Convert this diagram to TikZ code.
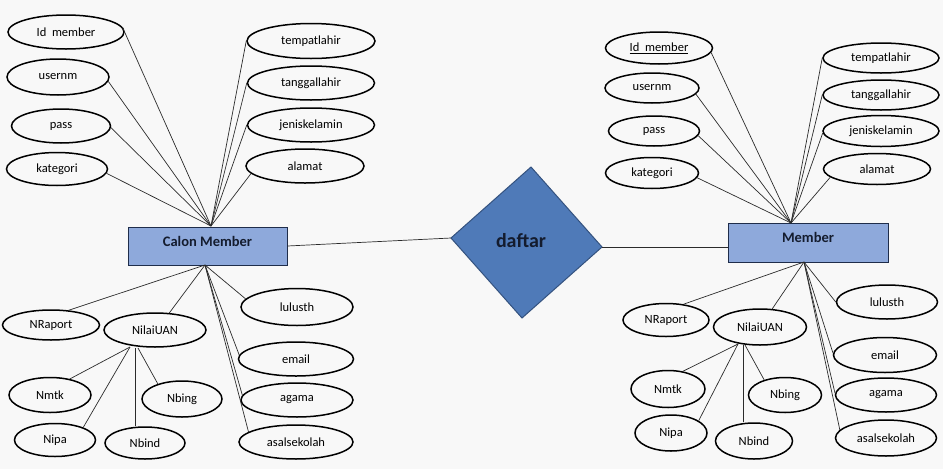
\documentclass[tikz,border=0pt]{standalone}
\usepackage{fontspec}
\setmainfont{Carlito}
\usetikzlibrary{shapes.geometric}
\definecolor{boxfill}{HTML}{8EA9DB}
\definecolor{boxline}{HTML}{1F2D4A}
\definecolor{dfill}{HTML}{4F7AB8}
\definecolor{dline}{HTML}{34527F}
\definecolor{conn}{HTML}{2B2B2B}
\definecolor{bg}{HTML}{F8F8F8}
\definecolor{ink}{HTML}{141C2E}
\begin{document}
\begin{tikzpicture}[x=1pt,y=-1pt,
  attr/.style={ellipse, draw=black, line width=1.5pt, inner sep=0pt,
    font=\fontsize{12.5}{14}\selectfont},
  ent/.style={rectangle, draw=boxline, line width=1pt, fill=boxfill, inner sep=0pt,
    text height=8pt, text depth=8pt, text=ink,
    font=\fontsize{14.5}{16}\selectfont\bfseries},
  link/.style={draw=conn, line width=0.7pt}]

\fill[bg] (0,0) rectangle (943,469);
\useasboundingbox (0,0) rectangle (943,469);

% ---------- left entity ----------
\node[ent, minimum width=159pt, minimum height=38pt] (calon) at (207.5,246) {Calon Member};
\coordinate (ltop) at (211,226);
\coordinate (lbot) at (205,265);

\node[attr, minimum width=116pt, minimum height=34pt] (lid) at (66,32) {Id\ \ member};
\node[attr, minimum width=102pt, minimum height=36pt] (lus) at (58,77) {usernm};
\node[attr, minimum width=99pt, minimum height=34pt] (lpa) at (61,126) {pass};
\node[attr, minimum width=101pt, minimum height=33pt] (lka) at (57,169) {kategori};
\node[attr, minimum width=128pt, minimum height=35pt] (ltl) at (311,41) {tempatlahir};
\node[attr, minimum width=127pt, minimum height=34pt] (ltg) at (311,83) {tanggallahir};
\node[attr, minimum width=127pt, minimum height=34pt] (ljk) at (311,125) {jeniskelamin};
\node[attr, minimum width=118pt, minimum height=34pt] (lal) at (305,166) {alamat};

\node[attr, minimum width=97pt, minimum height=30pt] (lnr) at (51,325) {NRaport};
\node[attr, minimum width=102pt, minimum height=34pt] (lua) at (155,330) {NilaiUAN};
\node[attr, minimum width=82pt, minimum height=35pt] (lmt) at (50,395) {Nmtk};
\node[attr, minimum width=80pt, minimum height=36pt] (lbg) at (182,399) {Nbing};
\node[attr, minimum width=81pt, minimum height=33pt] (lip) at (55,440) {Nipa};
\node[attr, minimum width=80pt, minimum height=32pt] (lbd) at (145,443) {Nbind};
\node[attr, minimum width=112pt, minimum height=37pt] (llu) at (297,307) {lulusth};
\node[attr, minimum width=115pt, minimum height=34pt] (lem) at (296,359) {email};
\node[attr, minimum width=112pt, minimum height=34pt] (lag) at (297,400) {agama};
\node[attr, minimum width=114pt, minimum height=34pt] (las) at (296,442) {asalsekolah};

\coordinate (lsa) at (130,347);
\coordinate (lsb) at (135,348);
\coordinate (lsc) at (138,348);

\draw[link] (ltop) -- (lid.5);
\draw[link] (ltop) -- (lus.-5);
\draw[link] (ltop) -- (lpa.-2);
\draw[link] (ltop) -- (lka.-5);
\draw[link] (ltop) -- (ltl.180);
\draw[link] (ltop) -- (ltg.180);
\draw[link] (ltop) -- (ljk.180);
\draw[link] (ltop) -- (lal.188);

\draw[link] (lbot) -- (lnr.40);
\draw[link] (lbot) -- (lua.50);
\draw[link] (lbot) -- (llu.171);
\draw[link] (lbot) -- (lem.176);
\draw[link] (lbot) -- (lag.175);
\draw[link] (lbot) -- (las.168);

\draw[link] (lsa) -- (lmt.39);
\draw[link] (lsa) -- (lip.24);
\draw[link] (lsb) -- (lsb |- lbd.north);
\draw[link] (lsc) -- (lbg.148);

% ---------- relationship ----------
\coordinate (dT) at (531,167);
\coordinate (dR) at (602,247);
\coordinate (dB) at (522,318);
\coordinate (dL) at (451,238);
\filldraw[fill=dfill, draw=dline, line width=1pt] (dT) -- (dR) -- (dB) -- (dL) -- cycle;
\node[text=ink, font=\fontsize{20}{22}\selectfont\bfseries] (daftar) at (521,241) {daftar};

% ---------- right entity ----------
\node[ent, minimum width=160pt, minimum height=39pt] (member) at (808,242.5) {Member};
\coordinate (rtop) at (791,223);
\coordinate (rbot) at (804,262);

\node[attr, minimum width=107pt, minimum height=32pt] (rid) at (659,48) {\underline{Id\ \ member}};
\node[attr, minimum width=94pt, minimum height=30pt] (rus) at (652,88) {usernm};
\node[attr, minimum width=91pt, minimum height=30pt] (rpa) at (654,131) {pass};
\node[attr, minimum width=93pt, minimum height=31pt] (rka) at (652,173) {kategori};
\node[attr, minimum width=116pt, minimum height=30pt] (rtl) at (881,58) {tempatlahir};
\node[attr, minimum width=116pt, minimum height=30pt] (rtg) at (881,95) {tanggallahir};
\node[attr, minimum width=116pt, minimum height=31pt] (rjk) at (881,131) {jeniskelamin};
\node[attr, minimum width=107pt, minimum height=31pt] (ral) at (877,169) {alamat};

\node[attr, minimum width=86pt, minimum height=33pt] (rnr) at (666,320) {NRaport};
\node[attr, minimum width=93pt, minimum height=36pt] (rua) at (760,327) {NilaiUAN};
\node[attr, minimum width=74pt, minimum height=37pt] (rmt) at (668,389) {Nmtk};
\node[attr, minimum width=73pt, minimum height=35pt] (rbg) at (785,395) {Nbing};
\node[attr, minimum width=72pt, minimum height=36pt] (rip) at (671,433) {Nipa};
\node[attr, minimum width=77pt, minimum height=36pt] (rbd) at (754,441) {Nbind};
\node[attr, minimum width=101pt, minimum height=34pt] (rlu) at (887,302) {lulusth};
\node[attr, minimum width=103pt, minimum height=35pt] (rem) at (885,355) {email};
\node[attr, minimum width=101pt, minimum height=34pt] (rag) at (886,395) {agama};
\node[attr, minimum width=101pt, minimum height=36pt] (ras) at (886,438) {asalsekolah};

\coordinate (rsa) at (738,344);
\coordinate (rsb) at (743,345);
\coordinate (rsc) at (745,345);

\draw[link] (rtop) -- (rid.-5);
\draw[link] (rtop) -- (rus.-8);
\draw[link] (rtop) -- (rpa.-6);
\draw[link] (rtop) -- (rka.-6);
\draw[link] (rtop) -- (rtl.180);
\draw[link] (rtop) -- (rtg.180);
\draw[link] (rtop) -- (rjk.182);
\draw[link] (rtop) -- (ral.190);

\draw[link] (rbot) -- (rnr.42);
\draw[link] (rbot) -- (rua.56);
\draw[link] (rbot) -- (rlu.180);
\draw[link] (rbot) -- (rem.178);
\draw[link] (rbot) -- (rag.178);
\draw[link] (rbot) -- (ras.170);

\draw[link] (rsa) -- (rmt.50);
\draw[link] (rsa) -- (rip.24);
\draw[link] (rsb) -- (rsb |- rbd.north);
\draw[link] (rsc) -- (rbg.144);

% ---------- connections ----------
\draw[link] (calon.east) -- (dL);
\draw[link] (dR) -- (dR -| member.west);
\end{tikzpicture}
\end{document}
